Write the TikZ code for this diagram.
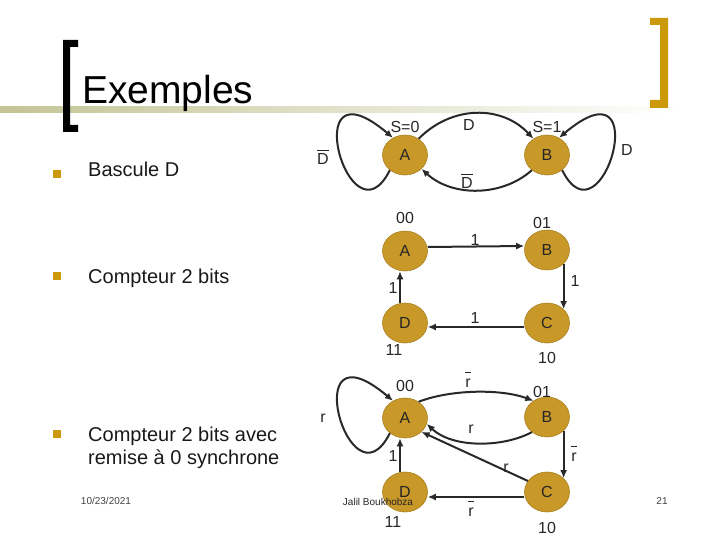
\documentclass[tikz,border=0pt]{standalone}
\usepackage{fontspec}
\setmainfont{Liberation Sans}
\usetikzlibrary{arrows.meta,shapes.geometric}
\definecolor{gold}{RGB}{200,152,40}
\definecolor{bracketgold}{RGB}{204,153,10}
\definecolor{barolive}{RGB}{196,196,150}
\definecolor{linegray}{RGB}{40,40,40}
\newcommand{\ovl}[1]{$\overline{\mbox{\rule{0pt}{13pt}#1}}$}
\begin{document}
\begin{tikzpicture}[x=1pt,y=-1pt,
  state/.style={ellipse, fill=gold, draw=gold!85!black, line width=0.6pt,
    minimum width=45pt, minimum height=40pt, inner sep=0pt,
    font=\fontsize{16}{18}\selectfont, text=black!85},
  arr/.style={draw=linegray, line width=2pt, -{Latex[length=8pt,width=7pt]}},
  lbl/.style={font=\fontsize{16}{18}\selectfont, anchor=base, inner sep=0pt, text=black!85},
  body/.style={font=\fontsize{20}{23}\selectfont, anchor=base west, inner sep=0pt, text=black!90},
  foot/.style={font=\fontsize{10}{12}\selectfont, anchor=base, inner sep=0pt, text=black!75},
  bullet/.style={fill=bracketgold, minimum size=8pt, inner sep=0pt}]
\useasboundingbox (0,0) rectangle (720,540);
% title bar
\shade[left color=barolive, right color=white] (0,107) rectangle (680,113);
\fill[black] (63,40) -- (78,40) -- (78,47) -- (70,47) -- (70,125) -- (78,125) -- (78,132) -- (63,132) -- cycle;
\fill[bracketgold] (650,18) -- (668,18) -- (668,108) -- (650,108) -- (650,100) -- (660,100) -- (660,25) -- (650,25) -- cycle;
\node[font=\fontsize{39}{44}\selectfont, anchor=base west, inner sep=0pt] (title) at (82,104) {Exemples};
% bullets and texts
\node[bullet] (b1) at (57,174) {};
\node[body] (t1) at (88,177) {Bascule D};
\node[bullet] (b2) at (57,276) {};
\node[body] (t2) at (88,283) {Compteur 2 bits};
\node[bullet] (b3) at (57,434) {};
\node[body] (t3) at (88,441) {Compteur 2 bits avec};
\node[body] (t3b) at (88,464) {remise à 0 synchrone};
\node[foot] (date) at (106,504) {10/23/2021};
\node[foot] (page) at (662,504) {21};
% ---- Diagram 1: Bascule D
\node[state] (A1) at (405,155) {A};
\node[state] (B1) at (547,155) {B};
\draw[arr] (A1.225) .. controls (350,250) and (295,55) .. (A1.125);
\draw[arr] (B1.-45) .. controls (602,250) and (657,55) .. (B1.55);
\draw[arr] (A1.50) .. controls (452,105) and (502,105) .. (B1.130);
\draw[arr] (B1.225) .. controls (502,197) and (452,197) .. (A1.-40);
\node[lbl] (s0) at (405,133) {S=0};
\node[lbl] (d1t) at (469,131) {D};
\node[lbl] (s1) at (547,133) {S=1};
\node[lbl] (d1l) at (323,165) {\ovl{D}};
\node[lbl] (d1b) at (467,189) {\ovl{D}};
\node[lbl] (d1r) at (627,156) {D};
% ---- Diagram 2: Compteur 2 bits
\node[state] (A2) at (405,251) {A};
\node[state] (B2) at (547,250) {B};
\node[state] (C2) at (547,323) {C};
\node[state] (D2) at (405,323) {D};
\draw[arr] ([yshift=4pt]A2.east) -- ([yshift=4pt]B2.west);
\draw[arr] (B2.-40) -- (C2.40);
\draw[arr] ([yshift=-4pt]C2.west) -- ([yshift=-4pt]D2.east);
\draw[arr] ([xshift=-5pt]D2.north) -- ([xshift=-5pt]A2.south);
\node[lbl] (c00) at (405,223) {00};
\node[lbl] (c01) at (542,229) {01};
\node[lbl] (c11) at (394,355) {11};
\node[lbl] (c10) at (547,363) {10};
\node[lbl] (e1) at (475,245) {1};
\node[lbl] (e2) at (575,286) {1};
\node[lbl] (e3) at (475,323) {1};
\node[lbl] (e4) at (393,293) {1};
% ---- Diagram 3: Compteur 2 bits avec remise a 0
\node[state] (A3) at (405,418) {A};
\node[state] (B3) at (547,417) {B};
\node[state] (C3) at (547,492) {C};
\node[state] (D3) at (405,492) {D};
\draw[arr] (A3.225) .. controls (350,513) and (295,318) .. (A3.125);
\draw[arr] (A3.50) .. controls (452,389) and (502,389) .. (B3.130);
\draw[arr] (B3.225) .. controls (502,448) and (452,448) .. (A3.-15);
\draw[arr] (C3.150) -- (A3.-40);
\draw[arr] (B3.-40) -- (C3.40);
\draw[arr] ([yshift=-5pt]C3.west) -- ([yshift=-5pt]D3.east);
\draw[arr] ([xshift=-5pt]D3.north) -- ([xshift=-5pt]A3.south);
\node[lbl] (r00) at (405,391) {00};
\node[lbl] (r01) at (542,397) {01};
\node[lbl] (r11) at (393,527) {11};
\node[lbl] (r10) at (547,533) {10};
\node[lbl] (rl) at (323,422) {r};
\node[lbl] (rt) at (468,387) {\ovl{r}};
\node[lbl] (rm) at (471,433) {r};
\node[lbl] (rone) at (393,461) {1};
\node[lbl] (rr) at (574,461) {\ovl{r}};
\node[lbl] (rd) at (506,472) {r};
\node[lbl] (rb) at (471,516) {\ovl{r}};
\node[foot, anchor=center, text=black!85] (author) at (378,502) {Jalil Boukhobza};
\end{tikzpicture}
\end{document}
